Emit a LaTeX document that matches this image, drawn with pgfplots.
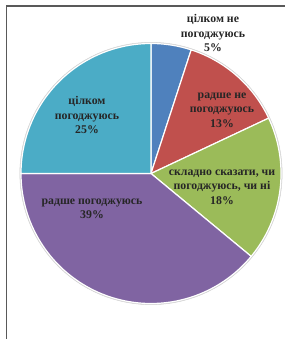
\documentclass[border=0pt]{standalone}
\usepackage{pgfplots}
\pgfplotsset{compat=1.18}
\usepackage{fontspec}
\setmainfont{Liberation Serif}
\definecolor{cBlue}{HTML}{4F81BD}
\definecolor{cRed}{HTML}{C0504D}
\definecolor{cGreen}{HTML}{9BBB59}
\definecolor{cPurple}{HTML}{8064A2}
\definecolor{cCyan}{HTML}{4BACC6}
\def\cx{151}
\def\cy{173.5}
\def\rr{130}
\newcommand\slice[3]{%
  \addplot[fill=#3, draw=white, line width=1.2pt, domain=#1:#2, samples=80, variable=\t]
    ({\cx+\rr*sin(\t)},{\cy-\rr*cos(\t)}) -- (axis cs:\cx,\cy) -- cycle;}
\begin{document}
\begin{tikzpicture}
\path[use as bounding box] (0,0) rectangle (285pt,339pt);
\begin{axis}[at={(0,0)}, anchor=south west, scale only axis,
  width=285pt, height=339pt, xmin=0, xmax=285, ymin=0, ymax=339,
  y dir=reverse, hide axis, clip=false]
% shares (percent): 5, 13, 18, 39, 25
\pgfmathsetmacro\aA{0}
\pgfmathsetmacro\aB{3.6*5}
\pgfmathsetmacro\aC{3.6*(5+13)}
\pgfmathsetmacro\aD{3.6*(5+13+18)}
\pgfmathsetmacro\aE{3.6*(5+13+18+39)}
\pgfmathsetmacro\aF{3.6*(5+13+18+39+25)}
\addplot[fill=gray!35, draw=gray!35, domain=0:360, samples=120, variable=\t]
  ({\cx+(\rr+1.2)*sin(\t)},{\cy-(\rr+1.2)*cos(\t)}) -- cycle;
\slice{\aA}{\aB}{cBlue}
\slice{\aB}{\aC}{cRed}
\slice{\aC}{\aD}{cGreen}
\slice{\aD}{\aE}{cPurple}
\slice{\aE}{\aF}{cCyan}
\draw[black!65, line width=1.3pt] (axis cs:6.5,339) -- (axis cs:6.5,6) -- (axis cs:285,6);
\begin{scope}[every node/.style={align=center, font=\bfseries\fontsize{11.8}{14.5}\selectfont, text=black!85}]
\node at (axis cs:213,33) {цілком не\\погоджуюсь\\5\%};
\node at (axis cs:222,110) {радше не\\погоджуюсь\\13\%};
\node at (axis cs:222,187) {складно сказати, чи\\погоджуюсь, чи ні\\18\%};
\node at (axis cs:92,209) {радше погоджуюсь\\39\%};
\node at (axis cs:87,115) {цілком\\погоджуюсь\\25\%};
\end{scope}
\end{axis}
\end{tikzpicture}
\end{document}
